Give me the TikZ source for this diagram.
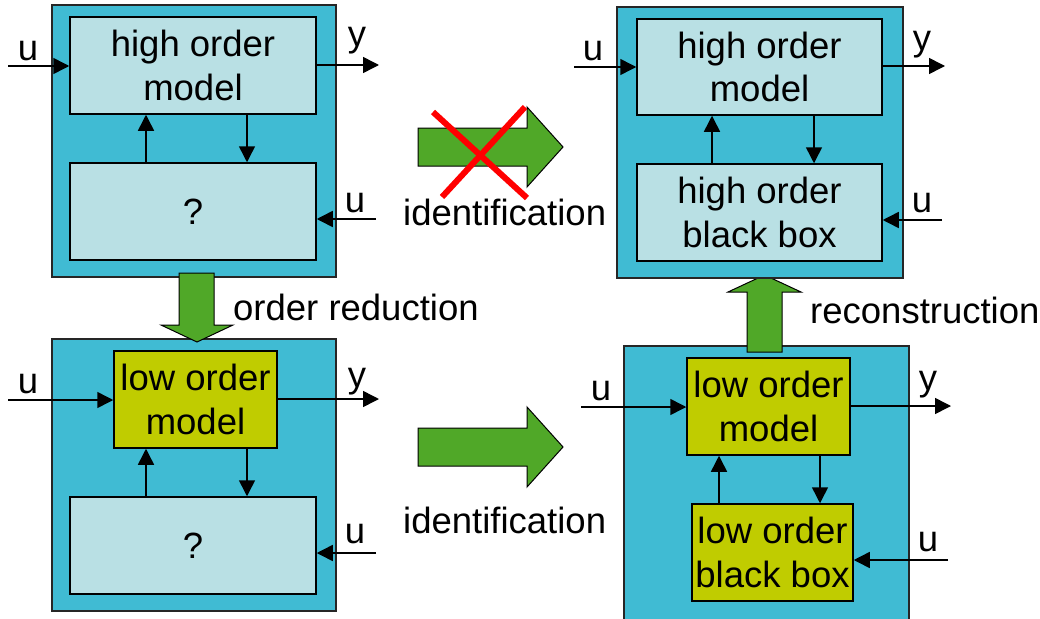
\documentclass[tikz,border=0pt]{standalone}
\usepackage{fontspec}
\setmainfont{Liberation Sans}
\usetikzlibrary{arrows.meta,calc}
\definecolor{outerc}{RGB}{64,187,211}
\definecolor{innerc}{RGB}{185,224,228}
\definecolor{lowc}{RGB}{192,204,0}
\definecolor{bigarr}{RGB}{80,168,40}
\begin{document}
\begin{tikzpicture}[x=1pt,y=-1pt,
  every node/.style={font=\fontsize{36.5}{43.5}\selectfont},
  outerblk/.style={draw=black!85,line width=1.5pt,fill=outerc,inner sep=0pt},
  innerblk/.style={draw=black,line width=1.5pt,fill=innerc,inner sep=0pt,align=center},
  lowblk/.style={draw=black,line width=1.5pt,fill=lowc,inner sep=0pt,align=center},
  arr/.style={line width=1.5pt,-{Triangle[length=16pt,width=16pt]}},
  lbl/.style={anchor=base,inner sep=0pt},
  bigarrow/.style={fill=bigarr,draw=black,line width=1pt},
  cross/.style={draw=red,line width=6pt}]
\path[use as bounding box,fill=white] (0,0) rectangle (1040,618);

% outer blocks
\node[outerblk,minimum width=284pt,minimum height=272pt] (ob1) at (194,141) {};
\node[outerblk,minimum width=284pt,minimum height=272pt] (ob2) at (194,475) {};
\node[outerblk,minimum width=285pt,minimum height=274pt] (ob4) at (766.5,483) {};

% big green arrows
\draw[bigarrow] (179,273) -- (214,273) -- (214,325) -- (233,325) -- (197,342) -- (161,325) -- (179,325) -- cycle;
\draw[bigarrow] (747,352) -- (782,352) -- (782,292) -- (801,292) -- (764.5,275) -- (728,292) -- (747,292) -- cycle;

\node[outerblk,minimum width=286pt,minimum height=271pt] (ob3) at (760,142.5) {};

\draw[bigarrow] (418,128) -- (527,128) -- (527,107) -- (563,147) -- (527,187) -- (527,166) -- (418,166) -- cycle;
\draw[bigarrow] (418,428) -- (527,428) -- (527,407) -- (563,447) -- (527,487) -- (527,466) -- (418,466) -- cycle;
\draw[cross] (433,112) -- (527,198);
\draw[cross] (525,107) -- (442,197);

% texts between blocks
\node[lbl,anchor=base west] (tred) at (233,320) {order reduction};
\node[lbl,anchor=base west] (trec) at (810,323) {reconstruction};
\node[lbl,anchor=base west] (tid1) at (403,225) {identification};
\node[lbl,anchor=base west] (tid2) at (403,533) {identification};

% inner boxes
\node[innerblk,minimum width=246pt,minimum height=97pt] (hm1) at (193,65.5) {high order\\model};
\node[innerblk,minimum width=246pt,minimum height=97pt] (q1) at (193,211.5) {?};
\node[lowblk,minimum width=163pt,minimum height=97pt] (lm2) at (195.5,399.5) {low order\\model};
\node[innerblk,minimum width=246pt,minimum height=97pt] (q2) at (193,545.5) {?};
\node[innerblk,minimum width=245pt,minimum height=96pt] (hm3) at (759.5,67) {high order\\model};
\node[innerblk,minimum width=245pt,minimum height=97pt] (bb3) at (759.5,212.5) {high order\\black box};
\node[lowblk,minimum width=163pt,minimum height=97pt] (lm4) at (768.5,406.5) {low order\\model};
\node[lowblk,minimum width=161pt,minimum height=97pt] (lb4) at (772.5,552.5) {low order\\black box};

% free ends
\coordinate (u1s) at (8,66);
\coordinate (y1e) at (379,65);
\coordinate (uq1) at (376,219);
\coordinate (u2s) at (8,400);
\coordinate (y2e) at (379,399);
\coordinate (uq2) at (376,553);
\coordinate (u3s) at (574,67);
\coordinate (y3e) at (945,66);
\coordinate (ub3) at (942,220);
\coordinate (u4s) at (581,407);
\coordinate (y4e) at (951,406);
\coordinate (ub4) at (948,560);

% connectors top-left
\draw[arr] (u1s) -- (u1s -| hm1.west);
\draw[arr] (y1e -| hm1.east) -- (y1e);
\draw[arr] (uq1) -- (uq1 -| q1.east);
\draw[arr] ([xshift=-47pt]q1.north) -- ([xshift=-47pt]hm1.south);
\draw[arr] ([xshift=54pt]hm1.south) -- ([xshift=54pt]q1.north);
% bottom-left
\draw[arr] (u2s) -- (u2s -| lm2.west);
\draw[arr] (y2e -| lm2.east) -- (y2e);
\draw[arr] (uq2) -- (uq2 -| q2.east);
\draw[arr] ([xshift=-47pt]q2.north) -- ([xshift=-49.5pt]lm2.south);
\draw[arr] ([xshift=51.5pt]lm2.south) -- ([xshift=54pt]q2.north);
% top-right
\draw[arr] (u3s) -- (u3s -| hm3.west);
\draw[arr] (y3e -| hm3.east) -- (y3e);
\draw[arr] (ub3) -- (ub3 -| bb3.east);
\draw[arr] ([xshift=-47.5pt]bb3.north) -- ([xshift=-47.5pt]hm3.south);
\draw[arr] ([xshift=54.5pt]hm3.south) -- ([xshift=54.5pt]bb3.north);
% bottom-right
\draw[arr] (u4s) -- (u4s -| lm4.west);
\draw[arr] (y4e -| lm4.east) -- (y4e);
\draw[arr] (ub4) -- (ub4 -| lb4.east);
\draw[arr] ([xshift=-53.5pt]lb4.north) -- ([xshift=-49.5pt]lm4.south);
\draw[arr] ([xshift=51.5pt]lm4.south) -- ([xshift=47.5pt]lb4.north);

% u / y labels
\node[lbl] (lu1) at (28,60) {u};
\node[lbl] (ly1) at (357,47) {y};
\node[lbl] (lq1) at (355,212) {u};
\node[lbl] (lu2) at (28,393) {u};
\node[lbl] (ly2) at (357,387) {y};
\node[lbl] (lq2) at (355,543) {u};
\node[lbl] (lu3) at (593,60) {u};
\node[lbl] (ly3) at (922,50) {y};
\node[lbl] (lb3) at (922,212) {u};
\node[lbl] (lu4) at (601,400) {u};
\node[lbl] (ly4) at (928,390) {y};
\node[lbl] (lb4u) at (928,551) {u};
\end{tikzpicture}
\end{document}
